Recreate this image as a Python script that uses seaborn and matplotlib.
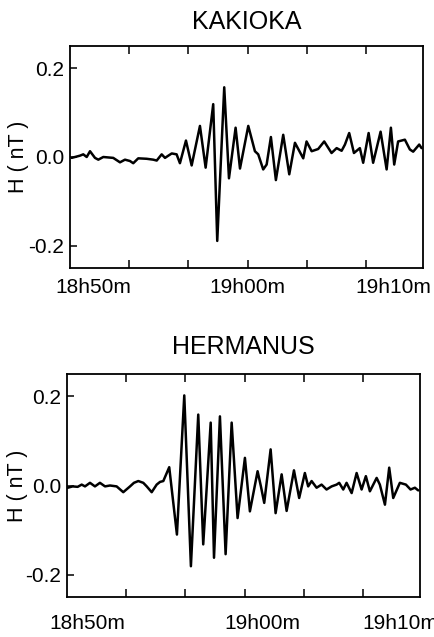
import matplotlib
matplotlib.use("Agg")
import matplotlib.pyplot as plt
import seaborn as sns
import pandas as pd

# ---- data (minutes after 18h00, H in nT) ----
kak_t = [45.14, 45.84, 46.12, 46.41, 46.69, 47.11, 47.39, 47.81, 48.65, 49.22, 49.64, 50.06,
         50.34, 50.76, 51.47, 52.03, 52.32, 52.74, 53.02, 53.30, 53.59, 54.00, 54.28, 54.79,
         55.27, 55.97, 56.45, 57.09, 57.43, 58.02, 58.42, 58.98, 59.35, 60.05, 60.61, 60.89,
         61.31, 61.60, 61.96, 62.38, 63.00, 63.51, 63.99, 64.69, 64.97, 65.40, 65.95, 66.46,
         67.08, 67.51, 67.93, 68.21, 68.57, 68.97, 69.47, 69.75, 70.21, 70.59, 71.22, 71.73,
         72.09, 72.37, 72.70, 73.27, 73.69, 73.97, 74.48, 74.68]
kak_h = [-0.002, 0.003, 0.006, 0.000, 0.013, -0.002, -0.006, 0.000, -0.002, -0.012, -0.006, -0.009,
         -0.014, -0.003, -0.004, -0.006, -0.008, 0.006, -0.002, 0.003, 0.008, 0.006, -0.014, 0.037,
         -0.019, 0.070, -0.024, 0.119, -0.189, 0.157, -0.048, 0.066, -0.026, 0.070, 0.013, 0.006,
         -0.028, -0.017, 0.045, -0.052, 0.050, -0.039, 0.032, -0.003, 0.035, 0.013, 0.018, 0.035,
         0.009, 0.020, 0.014, 0.028, 0.054, 0.009, 0.020, -0.013, 0.054, -0.013, 0.057, -0.028,
         0.066, -0.017, 0.035, 0.039, 0.017, 0.012, 0.028, 0.020]

her_t = [45.06, 45.48, 45.90, 46.24, 46.52, 46.94, 47.36, 47.78, 48.21, 48.63, 49.19, 49.75,
         50.32, 50.65, 51.02, 51.44, 51.73, 52.15, 52.57, 52.85, 53.13, 53.63, 54.28, 54.90,
         55.46, 56.08, 56.50, 57.13, 57.41, 57.91, 58.39, 58.90, 59.40, 60.02, 60.44, 61.09,
         61.37, 61.65, 62.19, 62.61, 63.12, 63.54, 64.16, 64.60, 65.08, 65.36, 65.65, 66.07,
         66.49, 66.91, 67.34, 67.76, 67.98, 68.32, 68.60, 69.03, 69.45, 69.87, 70.23, 70.57,
         71.14, 71.41, 71.84, 72.20, 72.54, 73.10, 73.61, 74.00, 74.37, 74.65]
her_h = [-0.005, -0.002, -0.003, 0.002, -0.002, 0.006, -0.002, 0.006, -0.002, 0.000, -0.002, -0.015,
         -0.002, 0.006, 0.010, 0.006, -0.002, -0.015, 0.002, 0.008, 0.010, 0.041, -0.110, 0.202,
         -0.181, 0.159, -0.132, 0.141, -0.162, 0.155, -0.154, 0.141, -0.073, 0.062, -0.058, 0.032,
         -0.002, -0.039, 0.081, -0.062, 0.025, -0.057, 0.034, -0.028, 0.028, -0.002, 0.010, -0.005,
         0.002, -0.009, -0.002, 0.002, 0.006, -0.009, 0.006, -0.017, 0.028, -0.009, 0.021, -0.013,
         0.017, 0.002, -0.043, 0.040, -0.028, 0.006, 0.002, -0.009, -0.005, -0.011]

time_labels = ["18h50m", "19h00m", "19h10m"]
kak_label_pos = [46.94, 59.94, 72.26]
her_label_pos = [46.69, 61.46, 73.10]
minor_ticks = [50, 55, 60, 65, 70]
y_ticks = [-0.2, 0.0, 0.2]
y_ticklabels = ["-0.2", "0.0", "0.2"]
titles = ["KAKIOKA", "HERMANUS"]
ylabel = "H ( nT )"

sns.set_style("ticks")
plt.rcParams["font.family"] = ["Liberation Sans", "DejaVu Sans"]
plt.rcParams["text.color"] = "black"
plt.rcParams["axes.labelcolor"] = "black"
plt.rcParams["xtick.color"] = "black"
plt.rcParams["ytick.color"] = "black"
plt.rcParams["axes.edgecolor"] = "black"

fig = plt.figure(figsize=(4.35, 6.37), dpi=100)
W, H = 435, 637
ax1 = fig.add_axes([70 / W, 1 - 268 / H, 353 / W, 222 / H])
ax2 = fig.add_axes([67 / W, 1 - 597 / H, 353 / W, 223 / H])

panels = [
    (ax1, kak_t, kak_h, kak_label_pos, titles[0], 12, 7.0, -0.116),
    (ax2, her_t, her_h, her_label_pos, titles[1], 14.5, 12.5, -0.110),
]

for ax, t, h, lpos, title, tpad, xpad, ylx in panels:
    df = pd.DataFrame({"t": t, "h": h})
    sns.lineplot(data=df, x="t", y="h", ax=ax, color="black", linewidth=1.8,
                 estimator=None, sort=False)
    ax.set_xlim(45, 74.8)
    ax.set_ylim(-0.25, 0.25)
    ax.set_xticks(lpos)
    ax.set_xticklabels(time_labels, fontsize=15, color="black")
    ax.set_xticks(minor_ticks, minor=True)
    ax.tick_params(axis="x", which="major", length=0, pad=xpad, labelcolor="black")
    ax.tick_params(axis="x", which="minor", direction="in", length=6, width=1.1,
                   top=True, bottom=True, color="black")
    ax.set_yticks(y_ticks)
    ax.set_yticklabels(y_ticklabels, fontsize=15, color="black")
    ax.tick_params(axis="y", which="major", direction="in", length=5, width=1.1,
                   left=True, right=False, pad=4, color="black", labelcolor="black")
    ax.set_xlabel("")
    ax.set_ylabel(ylabel, fontsize=15.5, color="black")
    ax.yaxis.set_label_coords(ylx, 0.5)
    ax.set_title(title, fontsize=18, pad=tpad, color="black")
    for s in ax.spines.values():
        s.set_visible(True)
        s.set_linewidth(1.3)
        s.set_color("black")

fig.savefig("out.png", dpi=100, facecolor="white")
